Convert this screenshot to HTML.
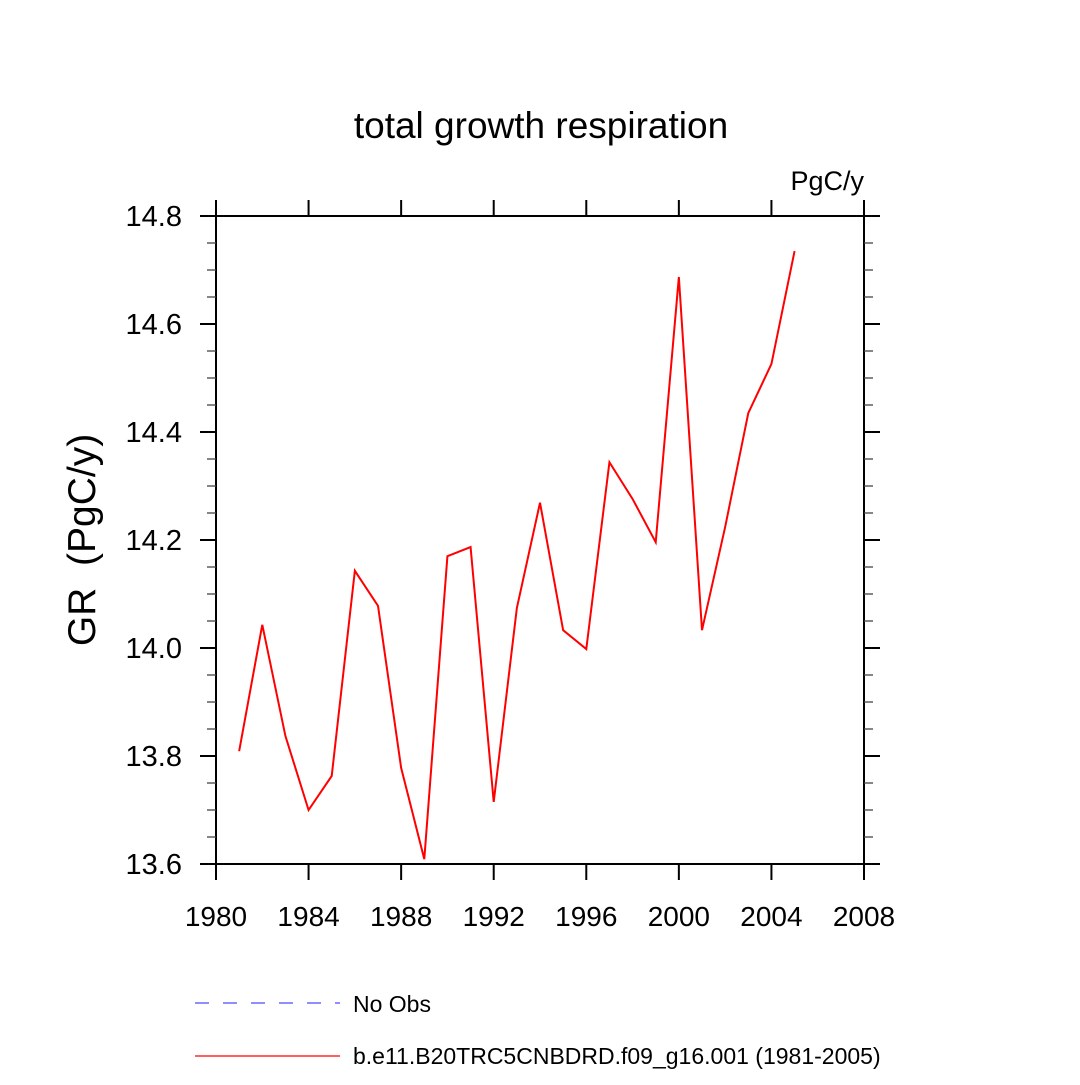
<!DOCTYPE html>
<html><head><meta charset="utf-8"><style>
body{margin:0;background:#fff;}
svg text{font-family:"Liberation Sans",Arial,sans-serif;}
</style></head><body>
<svg id="chart" width="1080" height="1080" xmlns="http://www.w3.org/2000/svg">
<text x="541" y="138" font-size="37" text-anchor="middle">total growth respiration</text>
<text x="864" y="190" font-size="27" text-anchor="end">PgC/y</text>
<text transform="translate(95,540) rotate(-90)" font-size="39" text-anchor="middle">GR &#160;(PgC/y)</text>
<g id="axes"></g>
<g id="series"></g>
<g>
<line x1="195" y1="1003" x2="340" y2="1003" stroke="#4a4aff" stroke-width="1.2" stroke-dasharray="14,14"/>
<text x="353" y="1012" font-size="23">No Obs</text>
<line x1="195" y1="1056" x2="340" y2="1056" stroke="#f00" stroke-width="1.2"/>
<text x="353" y="1064" font-size="23">b.e11.B20TRC5CNBDRD.f09_g16.001 (1981-2005)</text>
</g>
</svg>
<script>
const years=[1981,1982,1983,1984,1985,1986,1987,1988,1989,1990,1991,1992,1993,1994,1995,1996,1997,1998,1999,2000,2001,2002,2003,2004,2005];
const values=[13.809,14.043,13.837,13.700,13.763,14.143,14.078,13.778,13.609,14.170,14.187,13.715,14.074,14.269,14.033,13.998,14.344,14.276,14.196,14.687,14.033,14.224,14.435,14.526,14.735];
const xTicks=[1980,1984,1988,1992,1996,2000,2004,2008];
const yTicks=[13.6,13.8,14.0,14.2,14.4,14.6,14.8];
const X0=216,X1=864,Y0=216,Y1=864,xmin=1980,xmax=2008,ymin=13.6,ymax=14.8;
const sx=v=>X0+(v-xmin)/(xmax-xmin)*(X1-X0);
const sy=v=>Y1-(v-ymin)/(ymax-ymin)*(Y1-Y0);
const NS="http://www.w3.org/2000/svg";
const axes=document.getElementById('axes');
function mk(tag,attrs,parent){const e=document.createElementNS(NS,tag);for(const k in attrs)e.setAttribute(k,attrs[k]);parent.appendChild(e);return e;}
const frame=mk('rect',{x:X0,y:Y0,width:X1-X0,height:Y1-Y0,fill:'none',stroke:'#000','stroke-width':2},axes);


xTicks.forEach(t=>{const x=sx(t);
 const b=mk('line',{x1:x,y1:Y1,x2:x,y2:Y1+16,stroke:'#000','stroke-width':2},axes);
 
 
 const tp=mk('line',{x1:x,y1:Y0,x2:x,y2:Y0-16,stroke:'#000','stroke-width':2},axes);
 
 
 const l=mk('text',{x:x,y:Y1+62,'font-size':28,'text-anchor':'middle'},axes);l.textContent=t;
 
 
});
for(let v=ymin;v<=ymax+1e-9;v+=0.05){const y=sy(v);const major=Math.abs(v*5-Math.round(v*5))<1e-6;
 const len=major?16:9;const w=major?2:1.3;const c=major?'#000':'#444';
 const a=mk('line',{x1:X0-len,y1:y,x2:X0,y2:y,stroke:c,'stroke-width':w},axes);
 
 
 const r=mk('line',{x1:X1,y1:y,x2:X1+len,y2:y,stroke:c,'stroke-width':w},axes);
 
 
}
yTicks.forEach(t=>{const l=mk('text',{x:182,y:sy(t)+10,'font-size':29,'text-anchor':'end'},axes);l.textContent=t.toFixed(1);
 
 
});
const pts=years.map((y,i)=>sx(y)+','+sy(values[i])).join(' ');
const line=mk('polyline',{points:pts,fill:'none',stroke:'#f00','stroke-width':2},document.getElementById('series'));


</script>
</body></html>
